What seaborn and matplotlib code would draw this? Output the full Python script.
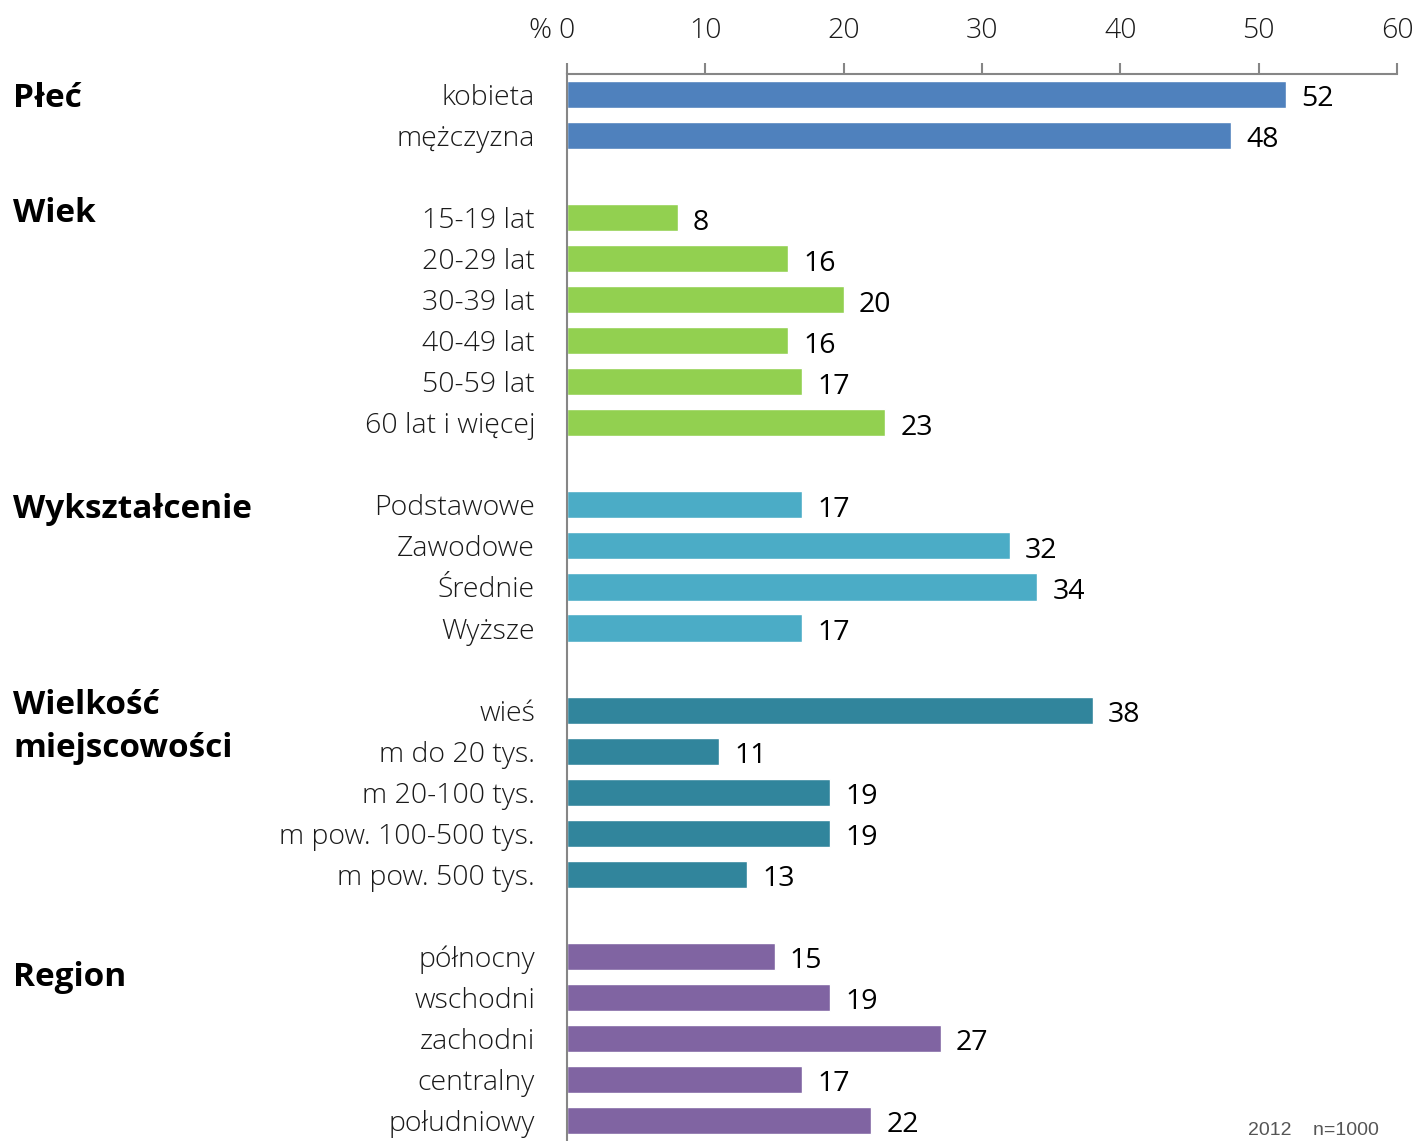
import numpy as np
import pandas as pd
import matplotlib
matplotlib.use("Agg")
import matplotlib.pyplot as plt
import seaborn as sns
from matplotlib.transforms import blended_transform_factory

# data, blank rows (None) separate the groups
labels = ["kobieta", "mężczyzna", None,
          "15-19 lat", "20-29 lat", "30-39 lat", "40-49 lat", "50-59 lat", "60 lat i więcej", None,
          "Podstawowe", "Zawodowe", "Średnie", "Wyższe", None,
          "wieś", "m do 20 tys.", "m 20-100 tys.", "m pow. 100-500 tys.", "m pow. 500 tys.", None,
          "północny", "wschodni", "zachodni", "centralny", "południowy"]
values = [52, 48, None,
          8, 16, 20, 16, 17, 23, None,
          17, 32, 34, 17, None,
          38, 11, 19, 19, 13, None,
          15, 19, 27, 17, 22]
groups = ["Płeć"] * 3 + ["Wiek"] * 7 + ["Wykształcenie"] * 5 + ["Wielkość"] * 6 + ["Region"] * 5
group_titles = ["Płeć", "Wiek", "Wykształcenie", "Wielkość\nmiejscowości", "Region"]
group_rows = [0.1, 2.9, 10.12, 15.4, 21.52]
palette = {"Płeć": "#4F81BD", "Wiek": "#92D050", "Wykształcenie": "#4BACC6",
           "Wielkość": "#31859C", "Region": "#8064A2"}

# unique names for the blank rows so barplot keeps their slots
names = [l if l is not None else " " * (i + 1) for i, l in enumerate(labels)]
df = pd.DataFrame({"name": names, "value": values, "group": groups})

sns.set_style("white")
plt.rcParams["font.family"] = ["Open Sans", "DejaVu Sans"]

W, H = 1419, 1141
fig = plt.figure(figsize=(W / 100, H / 100), dpi=100)
ax = fig.add_axes([567 / W, 0, (1397 - 567) / W, 1 - 74 / H])

sns.barplot(data=df, x="value", y="name", hue="group", order=names,
            palette=palette, dodge=False, width=0.66, legend=False, ax=ax,
            saturation=1)

ax.set_xlim(0, 60)
ax.set_ylim(25.42, -0.5)
ax.set_xlabel("")
ax.set_ylabel("")

gray = "#868686"
txt = "#1a1a1a"
for s in ["right", "bottom"]:
    ax.spines[s].set_visible(False)
for s in ["top", "left"]:
    ax.spines[s].set_color(gray)
    ax.spines[s].set_linewidth(1.5)

ax.xaxis.tick_top()
ax.set_xticks(range(0, 61, 10))
ax.tick_params(axis="x", direction="out", length=8, width=1.5, color=gray,
               labelsize=20.5, pad=13, labelcolor=txt)

ax.set_yticks(range(len(names)))
ax.set_yticklabels([l if l is not None else "" for l in labels])
ax.set_yticks(np.arange(-0.5, len(names), 1), minor=True)
ax.tick_params(axis="y", which="major", length=0, pad=23, labelsize=20.5,
               labelcolor=txt)
ax.tick_params(axis="y", which="minor", direction="out", length=8, width=1.5, color=gray)
for lab in ax.get_xticklabels() + ax.get_yticklabels():
    lab.set_fontweight("light")

# value labels
for i, v in enumerate(values):
    if v is not None:
        ax.text(v + 1.1, i + 0.12, f"{v}", va="center", ha="left", fontsize=20.5, color="black")

# "%" before the 0 tick, on the same line as the tick labels
off = (8 + 13) * 100 / 72 / (H - 74)
ax.text(-1.15, 1 + off, "%",
        transform=blended_transform_factory(ax.transData, ax.transAxes),
        ha="right", va="bottom", fontsize=20.5, color=txt, fontweight="light")

# group titles on the left
tr = blended_transform_factory(fig.transFigure, ax.transData)
for t, r in zip(group_titles, group_rows):
    ax.text(13 / W, r, t, transform=tr, ha="left", va="center", fontsize=24,
            fontweight="bold", color="black", linespacing=1.4)

# note at the bottom right
fig.text(1248 / W, 2 / H, "2012    n=1000", ha="left", va="bottom",
         fontsize=14, color="#555555", family=["Liberation Sans", "DejaVu Sans"])

fig.savefig("out.png", dpi=100)
